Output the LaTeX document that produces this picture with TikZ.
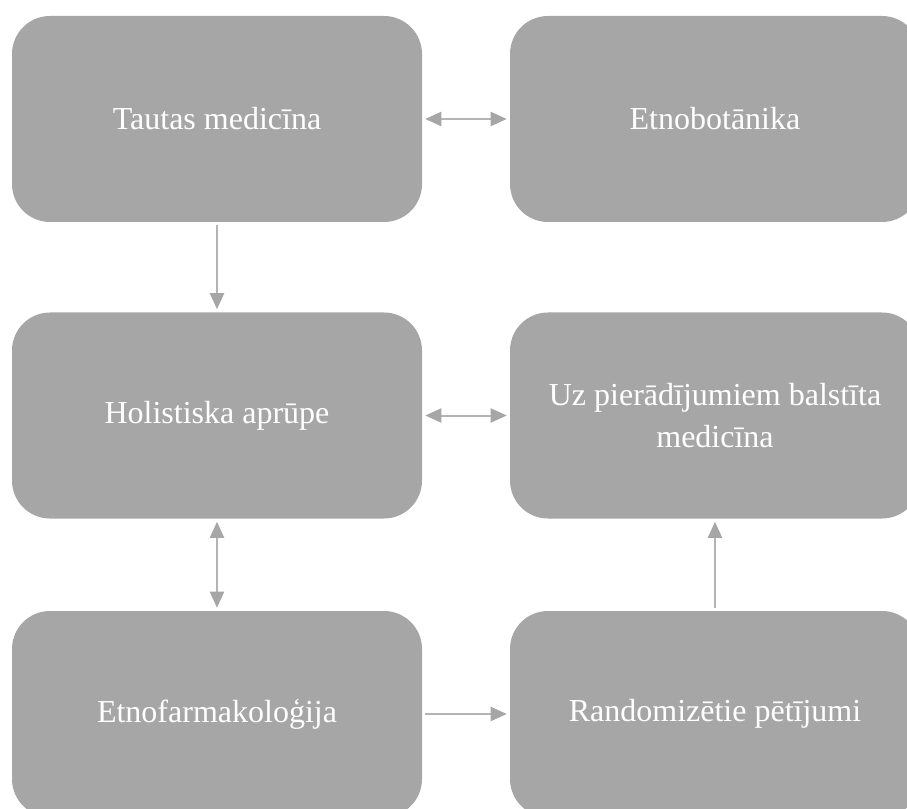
\documentclass[tikz,border=0pt]{standalone}
\usepackage{fontspec}
\setmainfont{Liberation Serif}
\usetikzlibrary{arrows.meta}
\definecolor{boxgray}{HTML}{A6A6A6}
\definecolor{linegray}{HTML}{B4B4B4}
\tikzset{
  box/.style={fill=boxgray, draw=none, rounded corners=28.5pt, minimum width=307.5pt, minimum height=154.5pt,
    text=white, align=center, font=\fontsize{24pt}{31pt}\selectfont, inner sep=0pt},
  conn/.style={draw=linegray, line width=1.5pt, shorten <=2.25pt, shorten >=2.25pt},
  tip/.style={-{Triangle[length=12pt,width=10.5pt,color=boxgray]}},
  dtip/.style={{Triangle[length=12pt,width=10.5pt,color=boxgray]}-{Triangle[length=12pt,width=10.5pt,color=boxgray]}}
}
\begin{document}
\begin{tikzpicture}[x=0.75pt,y=-0.75pt]
\useasboundingbox (0,0) rectangle (907,809);
\clip (0,0) rectangle (907,809);
\node[box] (tm) at (217,119) {Tautas medicīna};
\node[box] (eb) at (715,119) {Etnobotānika};
\node[box] (ha) at (217,415.5) {Holistiska aprūpe};
\node[box] (pm) at (715,415.5) {Uz pierādījumiem balstīta\\medicīna};
\node[box] (ef) at (217,714) {Etnofarmakoloģija};
\node[box] (rp) at (715,714) {Randomizētie pētījumi};
\draw[conn,dtip] (tm.east) -- (eb.west);
\draw[conn,tip] (tm.south) -- (ha.north);
\draw[conn,dtip] (ha.east) -- (pm.west);
\draw[conn,dtip] (ha.south) -- (ef.north);
\draw[conn,tip] (ef.east) -- (rp.west);
\draw[conn,tip] (rp.north) -- (pm.south);
\end{tikzpicture}
\end{document}
